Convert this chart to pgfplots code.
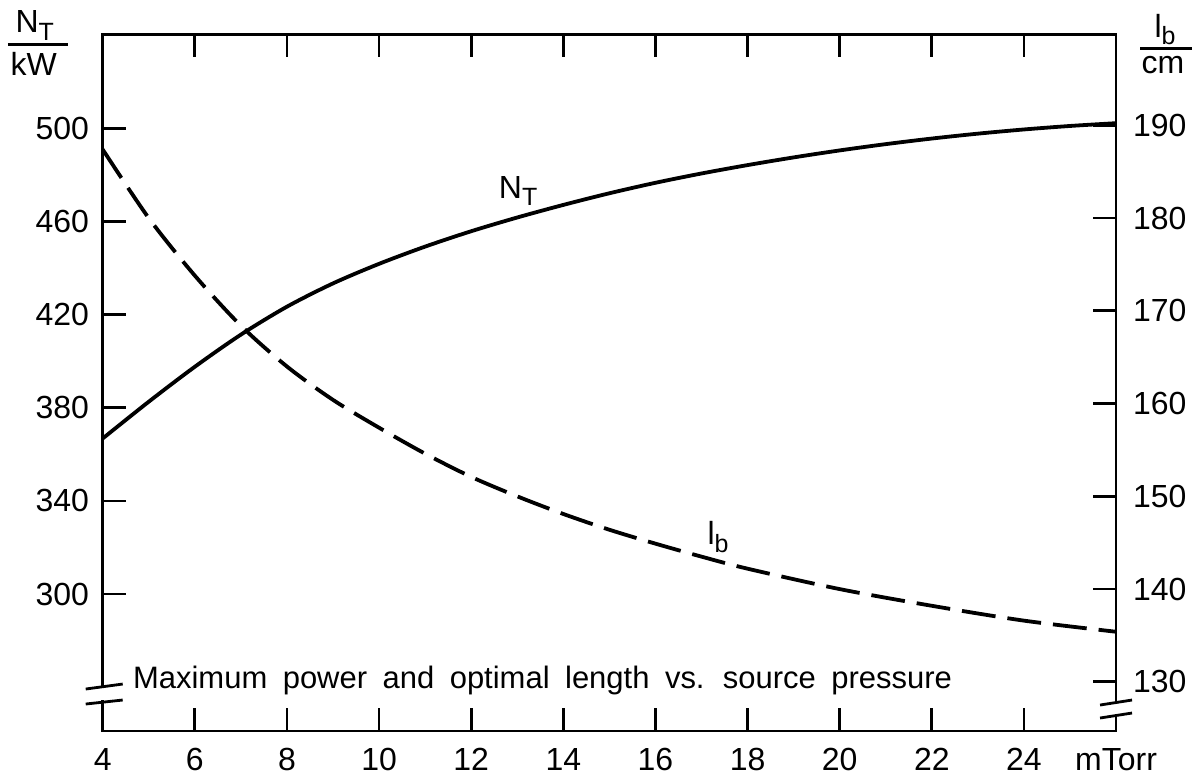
\documentclass[border=0pt]{standalone}
\usepackage{pgfplots}
\pgfplotsset{compat=1.18}
\usepackage{fontspec}
\setmainfont{Liberation Sans}
\usetikzlibrary{calc}

\newcommand\sub[1]{\raisebox{-0.45ex}{\fontsize{12.5}{12.5}\selectfont #1}}

% N_T in kW (left axis)
\pgfplotstableread{
x    nt
4    366.8
5    382.6
6    397.6
7    411.4
8    423.4
9    433.4
10   441.8
11   449.2
12   455.8
13   461.7
14   467.1
15   472.1
16   476.6
17   480.6
18   484.2
19   487.5
20   490.5
21   493.2
22   495.6
23   497.7
24   499.5
25   501.0
26   502.2
}\ntdata

% l_b in cm (right axis)
\pgfplotstableread{
x    lb
4    187.4
5    180.0
6    173.8
7    168.4
8    164.0
9    160.4
10   157.4
11   154.6
12   152.1
13   150.0
14   148.1
15   146.4
16   144.9
17   143.5
18   142.2
20   140.0
22   138.2
24   136.6
26   135.4
}\lbdata

\begin{document}
\fontsize{16}{19}\selectfont
\begin{tikzpicture}
\pgfplotsset{
  base/.style={
    scale only axis,
    width=507pt, height=348.5pt,
    xmin=4, xmax=26,
    enlargelimits=false,
    axis line style={line width=1.4pt},
    every tick/.style={line width=1.4pt, black},
    major tick length=11.5pt,
    tick align=inside,
    minor tick num=0,
    tick label style={font=\fontsize{16}{19}\selectfont},
    /pgf/number format/assume math mode=true,
  },
}
\begin{axis}[base, name=A,
  ymin=241.2, ymax=540.3,
  ytick={300,340,380,420,460,500},
  ytick pos=left,
  yticklabel style={xshift=-1.3pt},
  xtick={4,6,8,10,12,14,16,18,20,22,24,26},
  xticklabels={4,6,8,10,12,14,16,18,20,22,24,mTorr},
  xticklabel pos=bottom,
  xticklabel style={yshift=-3pt},
  clip=false,
]
  \addplot[line width=1.9pt, smooth] table[x=x, y=nt] {\ntdata};
  \node at (axis cs:13.02,473) {N\sub{T}};
\end{axis}

\begin{axis}[base,
  ymin=124.7, ymax=199.8,
  ytick={130,140,150,160,170,180,190},
  ytick pos=right,
  yticklabel pos=right,
  yticklabel style={xshift=3pt},
  hide x axis,
  clip=false,
]
  \addplot[line width=1.9pt, smooth, dash pattern=on 17pt off 6pt] table[x=x, y=lb] {\lbdata};
  \node at (axis cs:17.36,145.6) {l\sub{b}};
\end{axis}

% axis breaks
\fill[white] ($(A.south west)+(-2.5pt,15.3pt)$) rectangle ($(A.south west)+(2.5pt,21.3pt)$);
\draw[line width=1.4pt] ($(A.south west)+(-8.5pt,21pt)$) -- ($(A.south west)+(10pt,23.5pt)$);
\draw[line width=1.4pt] ($(A.south west)+(-8.5pt,13.5pt)$) -- ($(A.south west)+(10pt,15.5pt)$);
\fill[white] ($(A.south east)+(-2.5pt,8.6pt)$) rectangle ($(A.south east)+(2.5pt,13.5pt)$);
\draw[line width=1.4pt] ($(A.south east)+(-8pt,13pt)$) -- ($(A.south east)+(8pt,15.5pt)$);
\draw[line width=1.4pt] ($(A.south east)+(-8pt,6.5pt)$) -- ($(A.south east)+(8pt,9pt)$);

% axis unit labels
\node at ($(A.north west)+(-34pt,4.5pt)$) {N\sub{T}};
\draw[line width=1.2pt] ($(A.north west)+(-47.5pt,-5pt)$) -- ($(A.north west)+(-17.5pt,-5pt)$);
\node at ($(A.north west)+(-34.5pt,-14.5pt)$) {kW};
\node at ($(A.north east)+(24.5pt,2.5pt)$) {l\sub{b}};
\draw[line width=1.2pt] ($(A.north east)+(12pt,-7pt)$) -- ($(A.north east)+(38pt,-7pt)$);
\node at ($(A.north east)+(23.5pt,-15.5pt)$) {cm};

% caption inside the plot
\node[anchor=base west, inner sep=0pt] at ($(A.south west)+(15pt,21.5pt)$)
  {\fontsize{15.5}{18}\selectfont\spaceskip=0.5em Maximum power and optimal length vs. source pressure};

% page frame
\path ($(A.south west)+(-51pt,-21.5pt)$) rectangle ++(600.5pt,386.5pt);
\end{tikzpicture}
\end{document}
